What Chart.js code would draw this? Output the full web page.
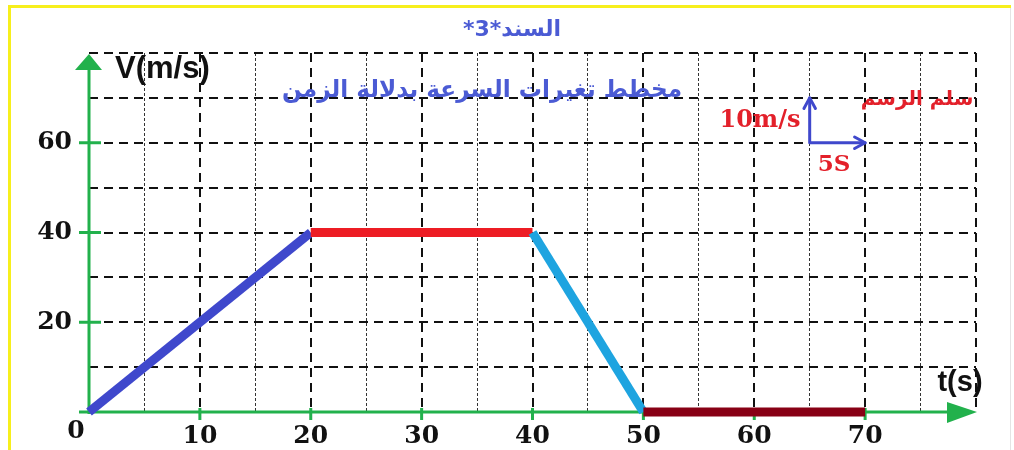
<!DOCTYPE html>
<html><head><meta charset="utf-8">
<script src="https://cdn.jsdelivr.net/npm/chart.js@4.4.1/dist/chart.umd.min.js"></script>
<style>html,body{margin:0;padding:0;background:#fff;}#wrap{width:1014px;height:450px;position:relative;}</style>
</head><body><div id="wrap"><canvas id="c" width="1014" height="450"></canvas></div>
<script>
// ---- data ----
const times = [0, 20, 40, 50, 70];
const speeds = [0, 40, 40, 0, 0];
const segmentColors = ['#3f48cc', '#ed1c24', '#1ea4e0', '#880015'];
const xTickLabels = [10, 20, 30, 40, 50, 60, 70];
const yTickLabels = [20, 40, 60];
const titleText = 'السند*3*';
const subtitleText = 'مخطط تغيرات السرعة بدلالة الزمن';
const scaleTitle = 'سلم الرسم';
const scaleVText = '10m/s';
const scaleTText = '5S';
const scaleOrigin = [65, 60];
const scaleStepT = 5;
const scaleStepV = 10;
const axisLabelY = 'V(m/s)';
const axisLabelX = 't(s)';

const GREEN = '#22b14c';
const BLUE_TXT = '#4b5bd4';
const RED_TXT = '#e3202a';
const NUM_FONT = 'DejaVu Serif';

function arrowHead(ctx, x, y, ang, len) {
  ctx.beginPath();
  ctx.moveTo(x + len * Math.cos(ang + Math.PI - 0.5), y + len * Math.sin(ang + Math.PI - 0.5));
  ctx.lineTo(x, y);
  ctx.lineTo(x + len * Math.cos(ang + Math.PI + 0.5), y + len * Math.sin(ang + Math.PI + 0.5));
  ctx.stroke();
}

const deco = {
  id: 'deco',
  beforeDraw(chart) {
    const ctx = chart.ctx;
    ctx.save();
    ctx.fillStyle = '#f7ef1c';
    ctx.fillRect(8, 5, 1003, 3);
    ctx.fillRect(8, 5, 3, 445);
    ctx.fillStyle = '#e4e4e4';
    ctx.fillRect(1010, 8, 1, 442);
    ctx.restore();
  },
  beforeDatasetsDraw(chart) {
    const ctx = chart.ctx;
    const xs = chart.scales.x, ys = chart.scales.y;
    const x0 = xs.getPixelForValue(0), y0 = ys.getPixelForValue(0);
    const xEnd = xs.getPixelForValue(80), yEnd = ys.getPixelForValue(80);
    ctx.save();
    ctx.strokeStyle = GREEN; ctx.fillStyle = GREEN; ctx.lineWidth = 3;
    ctx.beginPath(); ctx.moveTo(x0, y0 + 2); ctx.lineTo(x0, yEnd + 12); ctx.stroke();
    ctx.beginPath(); ctx.moveTo(x0 - 10, y0); ctx.lineTo(xEnd - 20, y0); ctx.stroke();
    ctx.beginPath(); ctx.moveTo(x0, yEnd + 1); ctx.lineTo(x0 - 14, yEnd + 17); ctx.lineTo(x0 + 13, yEnd + 17); ctx.closePath(); ctx.fill();
    ctx.beginPath(); ctx.moveTo(xEnd + 1, y0); ctx.lineTo(xEnd - 29, y0 - 10); ctx.lineTo(xEnd - 29, y0 + 11); ctx.closePath(); ctx.fill();
    yTickLabels.forEach(v => { const py = ys.getPixelForValue(v); ctx.beginPath(); ctx.moveTo(x0 - 10, py); ctx.lineTo(x0 + 12, py); ctx.stroke(); });
    xTickLabels.forEach(v => { const px = xs.getPixelForValue(v); ctx.beginPath(); ctx.moveTo(px, y0 - 4); ctx.lineTo(px, y0 + 8); ctx.stroke(); });
    ctx.restore();
  },
  afterDraw(chart) {
    const ctx = chart.ctx;
    const xs = chart.scales.x, ys = chart.scales.y;
    const x0 = xs.getPixelForValue(0), y0 = ys.getPixelForValue(0);
    ctx.save();
    ctx.fillStyle = '#111'; ctx.font = 'bold 25px "' + NUM_FONT + '"';
    ctx.textAlign = 'center'; ctx.textBaseline = 'middle';
    ctx.fillText('0', x0 - 13, y0 + 19);
    ctx.font = 'bold 31px "Liberation Sans"';
    ctx.textAlign = 'left';
    ctx.fillText(axisLabelY, x0 + 26, 69);
    ctx.textAlign = 'center';
    ctx.font = 'bold 29px "Liberation Sans"';
    ctx.fillText(axisLabelX, 960, 383);
    ctx.direction = 'rtl';
    ctx.fillStyle = BLUE_TXT;
    ctx.font = 'bold 22px "DejaVu Sans"';
    ctx.fillText(titleText, 512, 30);
    ctx.font = 'bold 24px "DejaVu Sans"';
    ctx.fillText(subtitleText, 482, 91, 400);
    ctx.fillStyle = RED_TXT;
    ctx.font = 'bold 20px "DejaVu Sans"';
    ctx.fillText(scaleTitle, 917, 100, 118);
    ctx.direction = 'ltr';
    ctx.font = 'bold 24px "' + NUM_FONT + '"';
    ctx.fillText(scaleVText, 760, 121);
    ctx.font = 'bold 23px "' + NUM_FONT + '"';
    ctx.fillText(scaleTText, 834, 165);
    const ox = xs.getPixelForValue(scaleOrigin[0]), oy = ys.getPixelForValue(scaleOrigin[1]);
    const tx = xs.getPixelForValue(scaleOrigin[0] + scaleStepT), ty = ys.getPixelForValue(scaleOrigin[1] + scaleStepV);
    ctx.strokeStyle = '#3f48cc'; ctx.lineWidth = 3; ctx.lineCap = 'round'; ctx.lineJoin = 'round';
    ctx.beginPath(); ctx.moveTo(ox, ty); ctx.lineTo(ox, oy); ctx.lineTo(tx, oy); ctx.stroke();
    arrowHead(ctx, ox, ty, -Math.PI / 2, 12);
    arrowHead(ctx, tx, oy, 0, 12);
    ctx.restore();
  }
};

const isMajor = v => v % 10 === 0;

new Chart(document.getElementById('c'), {
  type: 'line',
  data: {
    datasets: [{
      data: times.map((t, i) => ({ x: t, y: speeds[i] })),
      borderWidth: 9,
      borderColor: segmentColors[0],
      borderCapStyle: 'butt',
      borderJoinStyle: 'round',
      pointRadius: 0,
      tension: 0,
      clip: false,
      segment: { borderColor: c => segmentColors[c.p0DataIndex] }
    }]
  },
  options: {
    responsive: false,
    animation: false,
    events: [],
    layout: { padding: { left: 0, top: 53, right: 38, bottom: 0 } },
    plugins: { legend: { display: false }, tooltip: { enabled: false }, title: { display: false } },
    scales: {
      x: {
        type: 'linear', min: 0, max: 80,
        afterFit: s => { s.height = 38; },
        ticks: {
          stepSize: 5, autoSkip: false, maxRotation: 0, padding: 9,
          color: '#111', font: { family: NUM_FONT, weight: 'bold', size: 25 },
          callback: v => xTickLabels.includes(v) ? String(v) : ''
        },
        grid: {
          drawTicks: false,
          color: c => (c.tick && isMajor(c.tick.value)) ? '#111' : '#333',
          lineWidth: c => (!c.tick || c.tick.value === 0) ? 0 : (isMajor(c.tick.value) ? 2 : 1)
        },
        border: { display: false, dash: c => (c.tick && isMajor(c.tick.value)) ? [9, 6] : [3, 2] }
      },
      y: {
        type: 'linear', min: 0, max: 80,
        afterFit: s => { s.width = 89; },
        ticks: {
          stepSize: 10, autoSkip: false, padding: 17,
          color: '#111', font: { family: NUM_FONT, weight: 'bold', size: 25 },
          callback: v => yTickLabels.includes(v) ? String(v) : ''
        },
        grid: {
          drawTicks: false,
          color: c => (c.tick && isMajor(c.tick.value)) ? '#111' : '#666',
          lineWidth: c => (!c.tick || c.tick.value === 0) ? 0 : (isMajor(c.tick.value) ? 2 : 1)
        },
        border: { display: false, dash: c => (c.tick && isMajor(c.tick.value)) ? [9, 6] : [4, 3] }
      }
    }
  },
  plugins: [deco]
});
</script></body></html>
